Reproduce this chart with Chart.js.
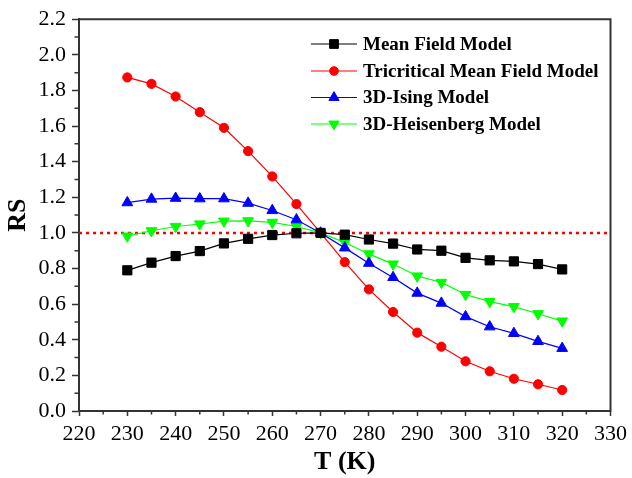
<!DOCTYPE html>
<html>
<head>
<meta charset="utf-8">
<script src="https://cdn.jsdelivr.net/npm/chart.js@4.4.1/dist/chart.umd.min.js"></script>
<style>
html, body { margin: 0; padding: 0; background: #fff; }
</style>
</head>
<body>
<canvas id="graficRS" width="632" height="478"></canvas>
<script>
// Date
const temperaturi = [230, 235, 240, 245, 250, 255, 260, 265, 270, 275, 280, 285, 290, 295, 300, 305, 310, 315, 320];
const meanField = [0.79, 0.833, 0.87, 0.898, 0.941, 0.967, 0.988, 0.998, 1.0, 0.99, 0.963, 0.94, 0.907, 0.90, 0.86, 0.846, 0.84, 0.825, 0.795];
const tricritical = [1.873, 1.837, 1.766, 1.678, 1.59, 1.459, 1.317, 1.162, 1.0, 0.836, 0.683, 0.556, 0.44, 0.361, 0.279, 0.223, 0.181, 0.15, 0.118];
const ising3D = [1.17, 1.19, 1.195, 1.192, 1.192, 1.167, 1.126, 1.074, 1.0, 0.916, 0.83, 0.75, 0.662, 0.606, 0.53, 0.473, 0.436, 0.391, 0.352];
const heisenberg3D = [0.982, 1.012, 1.036, 1.05, 1.066, 1.068, 1.059, 1.036, 1.0, 0.946, 0.882, 0.825, 0.758, 0.722, 0.654, 0.614, 0.586, 0.546, 0.505];
const nivelReferinta = 1.0;
const limiteX = [220, 330];
const limiteY = [0, 2.2];
const numeSerii = ['Mean Field Model', 'Tricritical Mean Field Model', '3D-Ising Model', '3D-Heisenberg Model'];

const fontSerif = "'Liberation Serif', 'Times New Roman', serif";

function puncte(valori) {
    return temperaturi.map((t, i) => ({ x: t, y: valori[i] }));
}

// Stiluri pentru fiecare serie
const stiluri = [
    { culoare: '#000000', forma: 'rect', raza: 6.5, rotatie: 0 },
    { culoare: '#ff0000', forma: 'circle', raza: 4.6, rotatie: 0 },
    { culoare: '#0000ff', forma: 'triangle', raza: 6.2, rotatie: 0 },
    { culoare: '#00ff00', forma: 'triangle', raza: 6.2, rotatie: 180 }
];
const valoriSerii = [meanField, tricritical, ising3D, heisenberg3D];

const seturi = valoriSerii.map((v, i) => ({
    label: numeSerii[i],
    data: puncte(v),
    borderColor: stiluri[i].culoare,
    backgroundColor: stiluri[i].culoare,
    borderWidth: 1.2,
    pointStyle: stiluri[i].forma,
    pointRadius: stiluri[i].raza,
    pointRotation: stiluri[i].rotatie,
    pointBorderWidth: 1,
    pointBorderColor: stiluri[i].culoare,
    pointBackgroundColor: stiluri[i].culoare,
    tension: 0,
    order: 1
}));

// linia punctata rosie la RS = 1
seturi.push({
    label: 'ref',
    data: [{ x: limiteX[0], y: nivelReferinta }, { x: limiteX[1], y: nivelReferinta }],
    borderColor: '#ff0000',
    borderWidth: 2.5,
    borderDash: [3, 4],
    pointRadius: 0,
    order: 2
});

// rama + tick-uri minore
const ramaSiTickuri = {
    id: 'ramaSiTickuri',
    afterDraw(chart) {
        const ctx = chart.ctx;
        const a = chart.chartArea;
        const sx = chart.scales.x, sy = chart.scales.y;
        ctx.save();
        ctx.strokeStyle = '#333';
        ctx.lineWidth = 2;
        ctx.beginPath();
        ctx.moveTo(a.left - 1, a.top);
        ctx.lineTo(a.right, a.top);
        ctx.lineTo(a.right, a.bottom + 1);
        ctx.stroke();
        ctx.lineWidth = 1.5;
        ctx.beginPath();
        for (let t = 225; t < limiteX[1]; t += 10) {
            const px = sx.getPixelForValue(t);
            ctx.moveTo(px, a.bottom);
            ctx.lineTo(px, a.bottom + 3.5);
        }
        for (let k = 1; k < 22; k += 2) {
            const py = sy.getPixelForValue(k / 10);
            ctx.moveTo(a.left, py);
            ctx.lineTo(a.left - 4.5, py);
        }
        ctx.stroke();
        ctx.restore();
    }
};

// legenda in interiorul graficului
const legendaInterna = {
    id: 'legendaInterna',
    afterDatasetsDraw(chart) {
        const ctx = chart.ctx;
        const randuri = [44, 71, 97.5, 124];
        ctx.save();
        ctx.font = 'bold 19px ' + fontSerif;
        ctx.textBaseline = 'middle';
        ctx.textAlign = 'left';
        stiluri.forEach((s, i) => {
            const y = randuri[i];
            ctx.strokeStyle = s.culoare;
            ctx.fillStyle = s.culoare;
            ctx.lineWidth = 1.2;
            ctx.beginPath();
            ctx.moveTo(311, y);
            ctx.lineTo(357, y);
            ctx.stroke();
            ctx.lineWidth = 1;
            Chart.helpers.drawPoint(ctx, {
                pointStyle: s.forma,
                radius: s.raza * 0.95,
                rotation: s.rotatie,
                borderWidth: 1
            }, 334, y);
            ctx.fillStyle = '#000';
            ctx.fillText(numeSerii[i], 363, y + 1);
        });
        ctx.restore();
    }
};

const ctx = document.getElementById('graficRS').getContext('2d');
const grafic = new Chart(ctx, {
    type: 'line',
    data: { datasets: seturi },
    options: {
        responsive: false,
        animation: false,
        layout: { padding: { top: 19, right: 20, left: 0, bottom: 0 } },
        plugins: {
            legend: { display: false },
            tooltip: { enabled: false }
        },
        scales: {
            x: {
                type: 'linear',
                min: limiteX[0],
                max: limiteX[1],
                afterFit(scale) { scale.height = 67; },
                ticks: {
                    stepSize: 10,
                    color: '#000',
                    font: { family: fontSerif, size: 22 },
                    padding: 5,
                    maxRotation: 0
                },
                grid: {
                    drawOnChartArea: false,
                    drawTicks: true,
                    tickLength: 5,
                    tickColor: '#333',
                    tickWidth: 1.5
                },
                border: { display: true, color: '#333', width: 2 },
                title: {
                    display: true,
                    text: 'T (K)',
                    color: '#000',
                    font: { family: fontSerif, size: 26, weight: 'bold' },
                    padding: { top: 0, bottom: 0 }
                }
            },
            y: {
                min: limiteY[0],
                max: limiteY[1],
                afterFit(scale) { scale.width = 79; },
                ticks: {
                    stepSize: 0.2,
                    color: '#000',
                    font: { family: fontSerif, size: 22 },
                    padding: 6,
                    callback: v => v.toFixed(1)
                },
                grid: {
                    drawOnChartArea: false,
                    drawTicks: true,
                    tickLength: 7,
                    tickColor: '#333',
                    tickWidth: 1.5
                },
                border: { display: true, color: '#333', width: 2 },
                title: {
                    display: true,
                    text: 'RS',
                    color: '#000',
                    font: { family: fontSerif, size: 26, weight: 'bold' },
                    padding: { top: 3, bottom: 0 }
                }
            }
        }
    },
    plugins: [ramaSiTickuri, legendaInterna]
});
</script>
</body>
</html>
